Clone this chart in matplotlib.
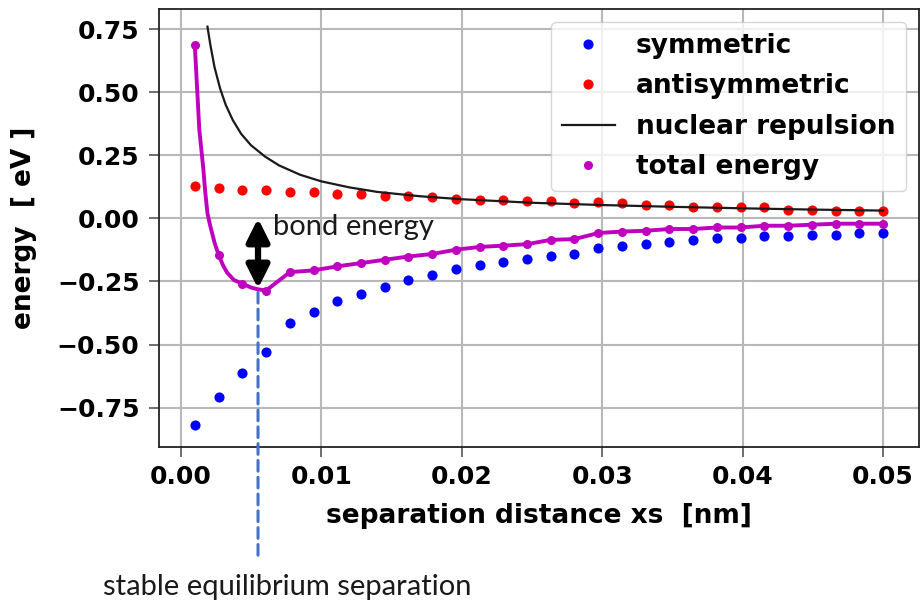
import matplotlib
matplotlib.use("Agg")
import matplotlib.pyplot as plt

# ---- data ----
xs = [0.00100, 0.00269, 0.00438, 0.00607, 0.00776, 0.00945, 0.01114, 0.01283,
      0.01452, 0.01621, 0.01790, 0.01959, 0.02128, 0.02297, 0.02466, 0.02634,
      0.02803, 0.02972, 0.03141, 0.03310, 0.03479, 0.03648, 0.03817, 0.03986,
      0.04155, 0.04324, 0.04493, 0.04662, 0.04831, 0.05000]

symmetric = [-0.819, -0.706, -0.611, -0.529, -0.415, -0.369, -0.329, -0.300,
             -0.270, -0.246, -0.223, -0.200, -0.185, -0.171, -0.161, -0.148,
             -0.141, -0.118, -0.110, -0.103, -0.094, -0.085, -0.078, -0.078,
             -0.071, -0.071, -0.065, -0.065, -0.056, -0.056]

antisymmetric = [0.130, 0.121, 0.114, 0.114, 0.105, 0.105, 0.098, 0.097,
                 0.087, 0.087, 0.083, 0.078, 0.074, 0.074, 0.068, 0.068,
                 0.061, 0.064, 0.061, 0.054, 0.054, 0.045, 0.045, 0.045,
                 0.045, 0.035, 0.035, 0.028, 0.031, 0.031]

total = [0.687, -0.144, -0.258, -0.286, -0.213, -0.206, -0.190, -0.177,
         -0.164, -0.151, -0.141, -0.124, -0.113, -0.108, -0.102, -0.085,
         -0.082, -0.058, -0.052, -0.049, -0.042, -0.042, -0.036, -0.036,
         -0.029, -0.029, -0.025, -0.021, -0.021, -0.021]

# total-energy curve (finer near the start)
total_line_x = [0.00100, 0.00132, 0.00160, 0.00175, 0.00190, 0.00210, 0.00240,
                0.00269, 0.00300, 0.00330, 0.00380, 0.00438, 0.00500, 0.00550,
                0.00607] + xs[4:]
total_line_y = [0.687, 0.352, 0.200, 0.100, 0.020, -0.030, -0.095,
                -0.144, -0.185, -0.215, -0.245, -0.258, -0.274, -0.281,
                -0.286] + total[4:]

nuc_x = [0.0019, 0.0021, 0.0024, 0.0028, 0.0032, 0.0037, 0.0043, 0.0050,
         0.0060, 0.0070, 0.0085, 0.0100, 0.0120, 0.0140, 0.0170, 0.0200,
         0.0250, 0.0300, 0.0350, 0.0400, 0.0450, 0.0500]
nuc_y = [0.760, 0.690, 0.600, 0.515, 0.450, 0.390, 0.335, 0.290,
         0.245, 0.210, 0.173, 0.147, 0.123, 0.105, 0.088, 0.076,
         0.062, 0.053, 0.046, 0.040, 0.035, 0.031]

x_eq = 0.0055          # stable equilibrium separation
bond_min = -0.278      # total energy at equilibrium

xticks = [0.00, 0.01, 0.02, 0.03, 0.04, 0.05]
yticks = [-0.75, -0.50, -0.25, 0.00, 0.25, 0.50, 0.75]

# ---- figure ----
W, H = 922, 606
fig = plt.figure(figsize=(W / 100, H / 100), dpi=100)
ax = fig.add_axes([159 / W, 1 - 447 / H, (919 - 159) / W, (447 - 9) / H])

ax.plot(xs, symmetric, 'o', color='#0000ff', ms=7.3, mec='none', label='symmetric', zorder=3)
ax.plot(xs, antisymmetric, 'o', color='#ff0000', ms=7.3, mec='none', label='antisymmetric', zorder=3)
ax.plot(nuc_x, nuc_y, '-', color='#1a1a1a', lw=1.6, label='nuclear repulsion', zorder=4)
ax.plot(total_line_x, total_line_y, '-', color='#bf00bf', lw=2.8, zorder=5)
ax.plot(xs, total, 'o', color='#bf00bf', ms=6.5, mec='none', label='total energy', zorder=5)

ax.set_xlim(-0.00155, 0.05256)
ax.set_ylim(-0.906, 0.830)
ax.set_xticks(xticks)
ax.set_yticks(yticks)
ax.set_xticklabels([f"{t:.2f}" for t in xticks])
ax.set_yticklabels([f"{t:.2f}".replace('-', '\u2212') for t in yticks])

ax.grid(True, color='#b8b8b8', lw=1.5)
ax.set_axisbelow(True)
for s in ax.spines.values():
    s.set_linewidth(1.3)
    s.set_color('#222222')

ax.tick_params(axis='both', length=7, width=1.2, color='#555555', labelsize=18)
ax.tick_params(axis='y', pad=7)
ax.tick_params(axis='x', pad=6)
for lab in ax.get_xticklabels() + ax.get_yticklabels():
    lab.set_fontweight('bold')

ax.set_xlabel('separation distance xs  [nm]', fontsize=19, fontweight='bold', labelpad=10)
ax.set_ylabel('energy  [ eV ]', fontsize=19, fontweight='bold', labelpad=14)

leg = ax.legend(loc='upper right', prop={'weight': 'bold', 'size': 19},
                handlelength=2.0, borderaxespad=0.5, numpoints=1,
                labelspacing=0.55)

# bond energy arrow
ax.annotate('', xy=(x_eq, bond_min), xytext=(x_eq, 0.0),
            arrowprops=dict(arrowstyle='<|-|>', color='black', lw=4.5,
                            mutation_scale=34, shrinkA=0, shrinkB=0), zorder=6)
ax.text(0.0066, -0.035, 'bond energy', fontsize=21, family='Lato',
        ha='left', va='center', color='#1a1a1a', zorder=6)

# dashed equilibrium line extending below the axes
ax.annotate('', xy=(x_eq, bond_min), xycoords='data',
            xytext=(x_eq, -0.247), textcoords=('data', 'axes fraction'),
            arrowprops=dict(arrowstyle='-', color='#4472c4', lw=2.2,
                            linestyle=(0, (3.5, 2)), shrinkA=0, shrinkB=0),
            annotation_clip=False, zorder=6)
fig.text(287 / W, 1 - 587 / H, 'stable equilibrium separation', fontsize=21,
         family='Lato', ha='center', va='center', color='#1a1a1a')

fig.savefig('out.png', dpi=100)
